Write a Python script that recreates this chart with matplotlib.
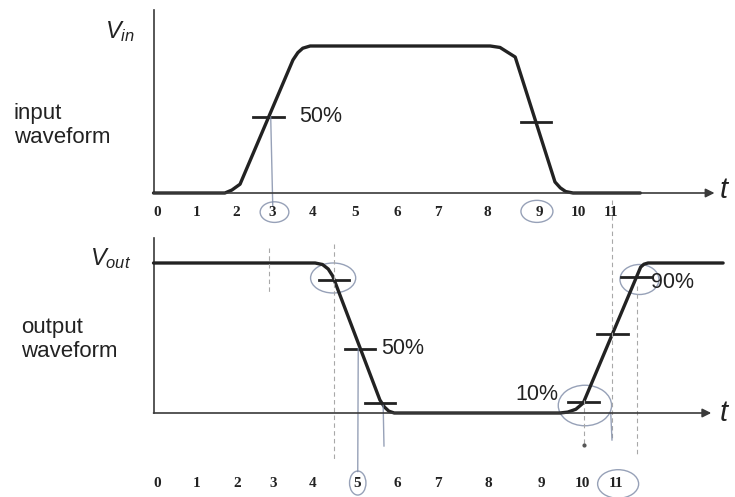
import numpy as np
import matplotlib.pyplot as plt
from matplotlib.patches import Ellipse

plt.rcParams['mathtext.fontset'] = 'custom'
plt.rcParams['mathtext.it'] = 'Liberation Sans:italic'
plt.rcParams['mathtext.rm'] = 'Liberation Sans'
plt.rcParams['font.family'] = 'Liberation Sans'

# input waveform: time units, voltage normalised to swing
t_in = [0, 1.74, 1.91, 2.11, 3.40, 3.52, 3.64, 3.82, 8.21, 8.45, 8.62, 8.82, 9.79, 9.92, 10.05, 10.23, 11.87]
v_in = [0, 0, 0.02, 0.06, 0.905, 0.955, 0.985, 1.0, 1.0, 0.99, 0.96, 0.925, 0.075, 0.035, 0.01, 0, 0]

# output waveform
t_out = [0, 3.94, 4.12, 4.26, 4.37, 5.52, 5.63, 5.74, 5.87, 9.91, 10.1, 10.3, 10.48, 11.88, 11.96, 12.06, 13.89]
v_out = [1.0, 1.0, 0.99, 0.96, 0.913, 0.087, 0.04, 0.012, 0, 0, 0.006, 0.025, 0.067, 0.973, 0.992, 1.0, 1.0]

# tick labels under each axis (positions as printed, not evenly spaced)
in_ticks = [0.09, 1.06, 2.01, 2.89, 3.89, 4.91, 5.94, 6.94, 8.13, 9.40, 10.35, 11.16]
out_ticks = [0.09, 1.06, 2.04, 2.91, 3.89, 4.96, 5.94, 6.94, 8.16, 9.45, 10.45, 11.28]
tick_labels = [str(i) for i in range(12)]

# levels where the crossing marks sit
in_rise_mark, in_fall_mark = 0.517, 0.483
out_fall_marks = [0.89, 0.43, 0.067]
out_rise_marks = [0.073, 0.527, 0.907]


def cross(t, v, lo, hi, level):
    t = np.asarray(t)
    v = np.asarray(v)
    m = (t >= lo) & (t <= hi)
    ts, vs = t[m], v[m]
    if vs[0] > vs[-1]:
        ts, vs = ts[::-1], vs[::-1]
    return float(np.interp(level, vs, ts))


ink = '#222222'
axc = '#3a3a3a'
pen = '#7d8aa6'
half = 0.37  # half length of the crossing marks

fig = plt.figure(figsize=(7.35, 4.97), dpi=100)
ax1 = fig.add_axes([0, 267 / 497, 1, 230 / 497])
ax2 = fig.add_axes([0, 0, 1, 267 / 497])
ax1.set_xlim(-3.744, 14.18)
ax1.set_ylim(-0.2517, 1.3129)
ax2.set_xlim(-3.744, 14.18)
ax2.set_ylim(-0.56, 1.22)
for ax in (ax1, ax2):
    ax.axis('off')

# ---- input panel
ax1.plot([0, 0], [0, 1.245], color=axc, lw=1.2)
ax1.annotate('', xy=(13.68, 0), xytext=(0, 0),
             arrowprops=dict(arrowstyle='-|>', color=axc, lw=1.2, mutation_scale=13,
                             shrinkA=0, shrinkB=0))
ax1.plot(t_in, v_in, color=ink, lw=2.4, solid_joinstyle='round', solid_capstyle='round')

x_r = cross(t_in, v_in, 1.8, 3.7, in_rise_mark)
x_f = cross(t_in, v_in, 8.4, 10.1, in_fall_mark)
ax1.plot([x_r - half, x_r + half], [in_rise_mark] * 2, color=ink, lw=2)
ax1.plot([x_f - half, x_f + half], [in_fall_mark] * 2, color=ink, lw=2)
ax1.text(3.54, 0.517, '50%', fontsize=15.5, color=ink, va='center', ha='left')

for p, s in zip(in_ticks, tick_labels):
    ax1.text(p, -0.13, s, fontsize=11, family='Liberation Serif', weight='bold',
             color=ink, ha='center', va='center')

ax1.text(-0.46, 1.095, '$V_{in}$', fontsize=17, color=ink, ha='right', va='center')
ax1.text(-3.41, 0.46, 'input\nwaveform', fontsize=16, color=ink, ha='left', va='center',
         linespacing=1.15)
ax1.text(13.8, 0.02, '$t$', fontsize=21, color=ink, ha='left', va='center')

# ---- output panel
ax2.plot([0, 0], [0, 1.167], color=axc, lw=1.2)
ax2.annotate('', xy=(13.6, 0), xytext=(0, 0),
             arrowprops=dict(arrowstyle='-|>', color=axc, lw=1.2, mutation_scale=13,
                             shrinkA=0, shrinkB=0))
ax2.plot(t_out, v_out, color=ink, lw=2.4, solid_joinstyle='round', solid_capstyle='round')

fall_x = [cross(t_out, v_out, 4.3, 5.6, lv) for lv in out_fall_marks]
rise_x = [cross(t_out, v_out, 10.2, 11.9, lv) for lv in out_rise_marks]
for x, lv in zip(fall_x + rise_x, out_fall_marks + out_rise_marks):
    ax2.plot([x - half, x + half], [lv, lv], color=ink, lw=2)

ax2.text(5.54, 0.43, '50%', fontsize=15.5, color=ink, va='center', ha='left')
ax2.text(9.88, 0.12, '10%', fontsize=15.5, color=ink, va='center', ha='right')
ax2.text(12.12, 0.87, '90%', fontsize=15.5, color=ink, va='center', ha='left')

for p, s in zip(out_ticks, tick_labels):
    ax2.text(p, -0.467, s, fontsize=11, family='Liberation Serif', weight='bold',
             color=ink, ha='center', va='center')

ax2.text(-0.54, 1.03, '$V_{out}$', fontsize=17, color=ink, ha='right', va='center')
ax2.text(-3.22, 0.49, 'output\nwaveform', fontsize=16, color=ink, ha='left', va='center',
         linespacing=1.15)
ax2.text(13.8, 0.0, '$t$', fontsize=21, color=ink, ha='left', va='center')

# dashed guide lines at the crossing times
guides = [(x_r, 1.10, 0.80), (fall_x[0], 1.13, -0.31), (rise_x[0], 0.09, -0.21),
          (rise_x[1], 1.42, -0.18), (rise_x[2], 0.85, -0.28)]
for x, y0, y1 in guides:
    ax2.plot([x, x], [y0, y1], color='#a8a8a8', lw=0.8, ls=(0, (4, 3)), clip_on=False)
ax2.plot(rise_x[0], -0.21, 'o', color='#555555', ms=2)

# pen marks from the scan
for ax, c, w, h in [(ax1, (2.95, -0.13), 0.7, 0.14), (ax1, (9.35, -0.125), 0.78, 0.15),
                    (ax2, (4.98, -0.467), 0.4, 0.16), (ax2, (11.33, -0.473), 1.0, 0.19),
                    (ax2, (4.38, 0.90), 1.1, 0.2), (ax2, (10.52, 0.05), 1.3, 0.27),
                    (ax2, (11.85, 0.89), 0.95, 0.2)]:
    ax.add_patch(Ellipse(c, w, h, fill=False, ec=pen, lw=1.0, alpha=0.8, clip_on=False))
ax1.plot([x_r + 0.05, x_r + 0.1], [in_rise_mark, -0.09], color=pen, lw=1.0, alpha=0.8)
ax2.plot([fall_x[1] - 0.05, 4.98], [out_fall_marks[1], -0.39], color=pen, lw=1.0, alpha=0.8)
ax2.plot([5.6, 5.62], [0.05, -0.22], color=pen, lw=1.0, alpha=0.8)
ax2.plot([11.15, 11.18], [0.0, -0.18], color=pen, lw=1.0, alpha=0.8)

fig.savefig('out.png', dpi=100)
